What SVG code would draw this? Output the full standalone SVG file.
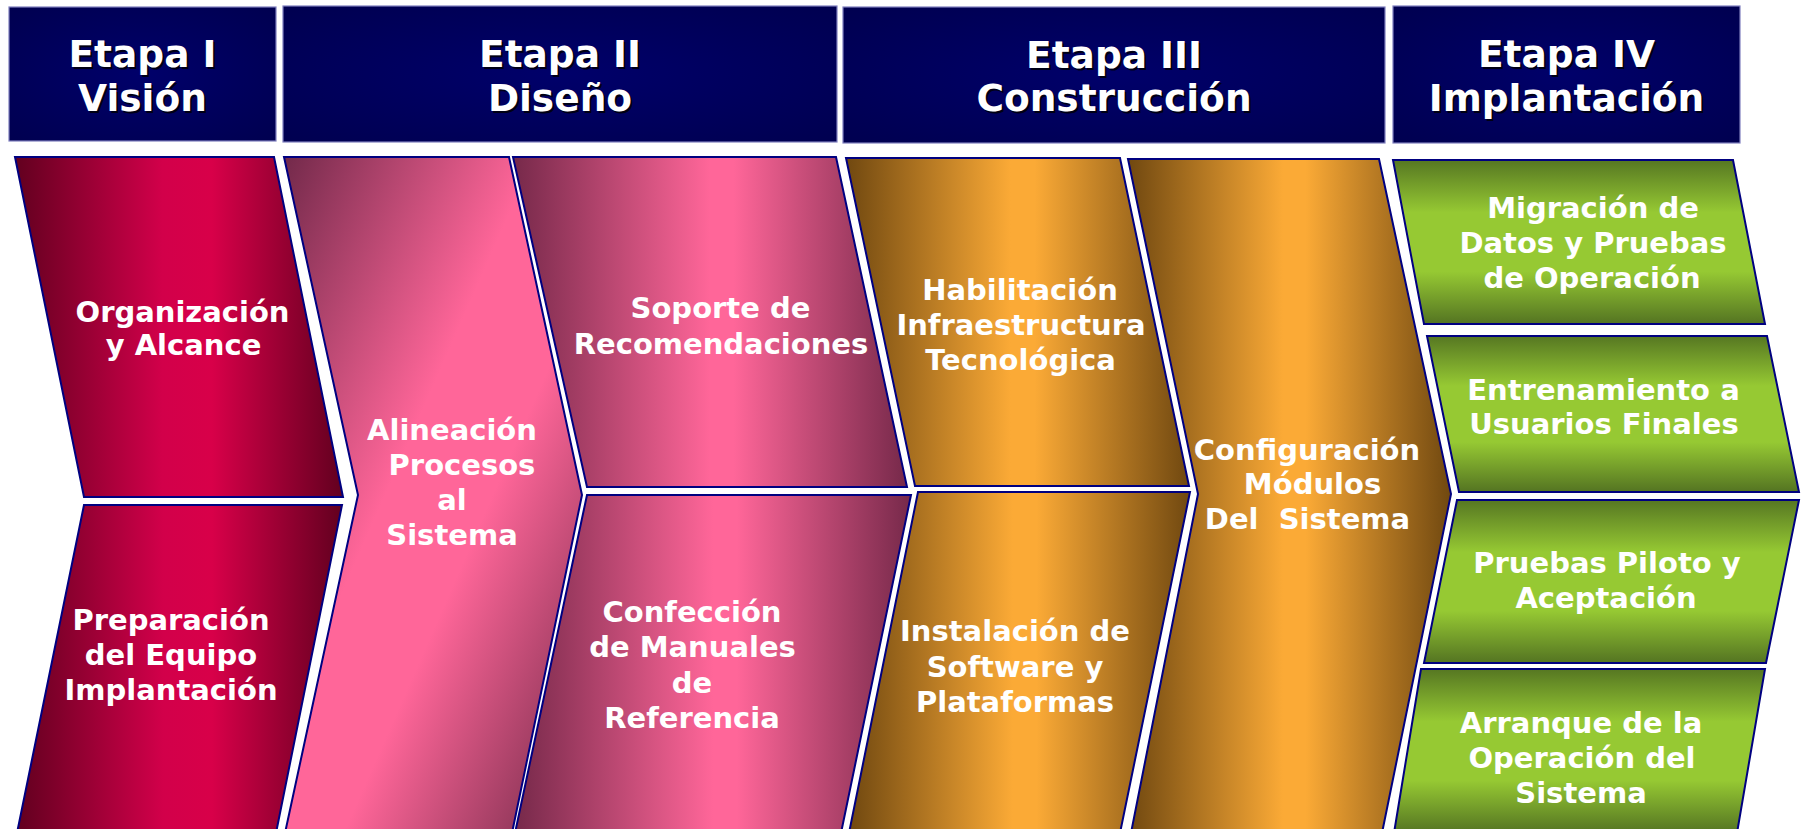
<svg xmlns="http://www.w3.org/2000/svg" width="1805" height="829" viewBox="0 0 1805 829">
<defs>
<radialGradient id="gHead" cx="0.5" cy="0.5" r="0.7">
<stop offset="0" stop-color="#00006A"/><stop offset="1" stop-color="#000050"/>
</radialGradient>
<linearGradient id="gRed" x1="0" y1="0" x2="1" y2="0">
<stop offset="0" stop-color="#62001F"/><stop offset="0.45" stop-color="#D2004A"/><stop offset="0.6" stop-color="#D80049"/><stop offset="1" stop-color="#62001F"/>
</linearGradient>
<linearGradient id="gPink" x1="0" y1="0" x2="1" y2="0">
<stop offset="0" stop-color="#76294A"/><stop offset="0.5" stop-color="#FF6699"/><stop offset="0.56" stop-color="#FF6699"/><stop offset="1" stop-color="#76294A"/>
</linearGradient>
<linearGradient id="gPinkD" x1="0" y1="0" x2="1" y2="1">
<stop offset="0" stop-color="#72294A"/><stop offset="0.42" stop-color="#FF6699"/><stop offset="0.6" stop-color="#FF6699"/><stop offset="1" stop-color="#6E2846"/>
</linearGradient>
<linearGradient id="gOrange" x1="0" y1="0" x2="1" y2="0">
<stop offset="0" stop-color="#704810"/><stop offset="0.48" stop-color="#FBAA36"/><stop offset="0.55" stop-color="#FBAA36"/><stop offset="1" stop-color="#704810"/>
</linearGradient>
<linearGradient id="gGreen" x1="0" y1="0" x2="0" y2="1">
<stop offset="0" stop-color="#567722"/><stop offset="0.32" stop-color="#96C933"/><stop offset="0.68" stop-color="#96C933"/><stop offset="1" stop-color="#547422"/>
</linearGradient>
</defs>
<style>
.hd{stroke:#7F7FBF;stroke-width:1.2;fill:url(#gHead)}
.ht{font-family:"DejaVu Sans",Verdana,sans-serif;font-weight:bold;font-size:37.5px;text-anchor:middle;fill:#FFFFFF}
.hs{font-family:"DejaVu Sans",Verdana,sans-serif;font-weight:bold;font-size:37.5px;text-anchor:middle;fill:#000000;fill-opacity:0.8}
.sh{stroke:#000080;stroke-width:2;stroke-linejoin:miter}
.red{fill:url(#gRed)}
.pink{fill:url(#gPink)}
.pinkd{fill:url(#gPinkD)}
.orange{fill:url(#gOrange)}
.green{fill:url(#gGreen)}
.t{font-family:"DejaVu Sans",Verdana,sans-serif;font-weight:bold;font-size:29px;text-anchor:middle;fill:#FFFFFF}
</style>
<rect width="1805" height="829" fill="#FFFFFF"/>

<g id="etapa1">
<rect class="hd" x="9" y="7" width="267" height="134"/>
<text class="hs" x="144.5" y="69">Etapa I</text><text class="hs" x="144.5" y="113">Visión</text>
<text class="ht" x="142.5" y="67">Etapa I</text><text class="ht" x="142.5" y="111">Visión</text>
</g>
<g id="etapa2">
<rect class="hd" x="283" y="6" width="554" height="136"/>
<text class="hs" x="562" y="69">Etapa II</text><text class="hs" x="562" y="113">Diseño</text>
<text class="ht" x="560" y="67">Etapa II</text><text class="ht" x="560" y="111">Diseño</text>
</g>
<g id="etapa3">
<rect class="hd" x="843" y="7" width="542" height="136"/>
<text class="hs" x="1116" y="70">Etapa III</text><text class="hs" x="1116" y="113">Construcción</text>
<text class="ht" x="1114" y="68">Etapa III</text><text class="ht" x="1114" y="111">Construcción</text>
</g>
<g id="etapa4">
<rect class="hd" x="1393" y="6" width="347" height="137"/>
<text class="hs" x="1568.5" y="69">Etapa IV</text><text class="hs" x="1568.5" y="113">Implantación</text>
<text class="ht" x="1566.5" y="67">Etapa IV</text><text class="ht" x="1566.5" y="111">Implantación</text>
</g>

<g id="organizacion">
<polygon class="sh red" points="15,157 274,157 343,497 84,497"/>
<text class="t" x="182.5" y="322">Organización</text>
<text class="t" x="183.5" y="355">y Alcance</text>
</g>
<g id="preparacion">
<polygon class="sh red" points="84,505 342,505 276,833 17,833"/>
<text class="t" x="171" y="630">Preparación</text>
<text class="t" x="171" y="665">del Equipo</text>
<text class="t" x="171" y="700">Implantación</text>
</g>
<g id="alineacion">
<polygon class="sh pinkd" points="284,157 509,157 582,495 512,833 285,833 358,495"/>
<text class="t" x="452" y="440">Alineación</text>
<text class="t" x="462" y="475">Procesos</text>
<text class="t" x="452" y="510">al</text>
<text class="t" x="452" y="545">Sistema</text>
</g>
<g id="soporte">
<polygon class="sh pink" points="513,157 836,157 907,487 587,487"/>
<text class="t" x="720.5" y="318">Soporte de</text>
<text class="t" x="721" y="354">Recomendaciones</text>
</g>
<g id="confeccion">
<polygon class="sh pink" points="587,495 911,495 841,833 515,833"/>
<text class="t" x="692" y="622">Confección</text>
<text class="t" x="692.5" y="657">de Manuales</text>
<text class="t" x="692" y="693">de</text>
<text class="t" x="692" y="728">Referencia</text>
</g>
<g id="habilitacion">
<polygon class="sh orange" points="846,158 1120,158 1189,486 915,486"/>
<text class="t" x="1020" y="300">Habilitación</text>
<text class="t" x="1021" y="335">Infraestructura</text>
<text class="t" x="1020.5" y="370">Tecnológica</text>
</g>
<g id="instalacion">
<polygon class="sh orange" points="918,492 1190,492 1120,833 849,833"/>
<text class="t" x="1015" y="641">Instalación de</text>
<text class="t" x="1015" y="677">Software y</text>
<text class="t" x="1015" y="712">Plataformas</text>
</g>
<g id="configuracion">
<polygon class="sh orange" points="1128,159 1379,159 1451,494 1382,833 1131,833 1198,494"/>
<text class="t" x="1307" y="460">Configuración</text>
<text class="t" x="1312.5" y="494">Módulos</text>
<text class="t" x="1307.5" y="529" xml:space="preserve">Del  Sistema</text>
</g>
<g id="migracion">
<polygon class="sh green" points="1393,160 1733,160 1765,324 1424,324"/>
<text class="t" x="1593" y="218">Migración de</text>
<text class="t" x="1593" y="253">Datos y Pruebas</text>
<text class="t" x="1592" y="288">de Operación</text>
</g>
<g id="entrenamiento">
<polygon class="sh green" points="1427,336 1767,336 1799,492 1459,492"/>
<text class="t" x="1603.5" y="400">Entrenamiento a</text>
<text class="t" x="1604" y="434">Usuarios Finales</text>
</g>
<g id="pruebas">
<polygon class="sh green" points="1457,500 1799,500 1766,663 1424,663"/>
<text class="t" x="1607" y="573">Pruebas Piloto y</text>
<text class="t" x="1606" y="608">Aceptación</text>
</g>
<g id="arranque">
<polygon class="sh green" points="1421,669 1765,669 1737,833 1394,833"/>
<text class="t" x="1581" y="733">Arranque de la</text>
<text class="t" x="1582" y="768">Operación del</text>
<text class="t" x="1581" y="803">Sistema</text>
</g>
<g id="connectors"></g>
</svg>
